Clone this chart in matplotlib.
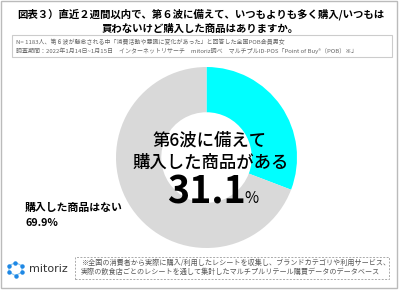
import matplotlib
matplotlib.use("Agg")
import matplotlib.pyplot as plt
from matplotlib.patches import Rectangle, Polygon
import numpy as np

plt.rcParams['font.family'] = ['Noto Sans CJK JP', 'DejaVu Sans']

# データ
labels = ['第6波に備えて購入した商品がある', '購入した商品はない']
values = [31.1, 69.9]
colors = ['#00FFFF', '#D9D9D9']

title_lines = ['図表３）直近２週間以内で、第６波に備えて、いつもよりも多く購入/いつもは',
               '買わないけど購入した商品はありますか。']
note_lines = ['N= 1183人、第６波が懸念される中「消費活動や意識に変化があった」と回答した全国POB会員男女',
              '調査期間：2022年1月14日~1月15日　インターネットリサーチ　mitoriz調べ　マルチプルID-POS「Point of Buy®（POB）※」']
foot_lines = ['※全国の消費者から実際に購入/利用したレシートを収集し、ブランドカテゴリや利用サービス、',
              '実際の飲食店ごとのレシートを通して集計したマルチプルリテール購買データのデータベース']

W, H = 400, 290
fig = plt.figure(figsize=(W / 100, H / 100), dpi=100)


def fx(x):
    return x / W


def fy(y):
    return 1 - y / H


# 外枠
fig.patches.append(Rectangle((fx(1), fy(288)), fx(396), 287 / H, transform=fig.transFigure,
                             fill=False, edgecolor='#BBBBBB', linewidth=1))

# タイトル
fig.text(fx(201), fy(14), title_lines[0], ha='center', va='center', fontsize=7.5, fontweight='bold')
fig.text(fx(200), fy(29), title_lines[1], ha='center', va='center', fontsize=7.5, fontweight='bold')

# 注記ボックス
fig.patches.append(Rectangle((fx(12), fy(57)), 380 / W, 22 / H, transform=fig.transFigure,
                             fill=False, edgecolor='#CCCCCC', linewidth=0.8))
fig.text(fx(16), fy(42), note_lines[0], ha='left', va='center', fontsize=4.3, color='#666666')
fig.text(fx(16), fy(51), note_lines[1], ha='left', va='center', fontsize=4.3, color='#666666')

# ドーナツ
cx, cy, r = 206.5, 157.5, 90.5
ax = fig.add_axes([fx(cx - r), fy(cy + r), 2 * r / W, 2 * r / H])
ax.pie(values, colors=colors, startangle=90, counterclock=False,
       wedgeprops=dict(width=0.5, edgecolor='none'))
ax.set_xlim(-1, 1)
ax.set_ylim(-1, 1)
ax.set_aspect('equal')
ax.axis('off')

fig.text(fx(210), fy(141), '第6波に備えて', ha='center', va='center', fontsize=12.5, fontweight='medium')
fig.text(fx(211), fy(163), '購入した商品がある', ha='center', va='center', fontsize=12.5, fontweight='medium')
fig.text(fx(206), fy(203), values[0], ha='center', va='baseline', fontsize=27, fontweight='bold')
fig.text(fx(244), fy(203), '%', ha='left', va='baseline', fontsize=11)

# 左ラベル
fig.text(fx(25), fy(208), labels[1], ha='left', va='center', fontsize=7.8, fontweight='bold')
fig.text(fx(25), fy(223), f'{values[1]}%', ha='left', va='center', fontsize=7.8, fontweight='bold')

# ロゴ
ang = np.deg2rad(np.arange(0, 360, 60) + 30)
lx, ly = 15.5, 269
px = lx + 7.5 * np.cos(ang)
py = ly + 6.5 * np.sin(ang)
fig.patches.append(Polygon(np.column_stack([fx(px), fy(py)]), closed=True, transform=fig.transFigure,
                           fill=False, edgecolor='#8CC8F0', linewidth=0.8))
fig.add_artist(plt.Line2D(fx(px), fy(py), transform=fig.transFigure, linestyle='none',
                          marker='o', markersize=2.2, color='#1E88E5'))
fig.text(fx(29), fy(269), 'mitoriz', ha='left', va='center', fontsize=8, color='#333333',
         family='DejaVu Sans')

# 脚注ボックス
fig.patches.append(Rectangle((fx(75), fy(279)), 314 / W, 22 / H, transform=fig.transFigure,
                             fill=False, edgecolor='#AAAAAA', linewidth=0.7, linestyle=(0, (2, 1.5))))
fig.text(fx(81), fy(263), foot_lines[0], ha='left', va='center', fontsize=5.1, color='#555555')
fig.text(fx(81), fy(272), foot_lines[1], ha='left', va='center', fontsize=5.1, color='#555555')

fig.savefig('out.png', dpi=100)
